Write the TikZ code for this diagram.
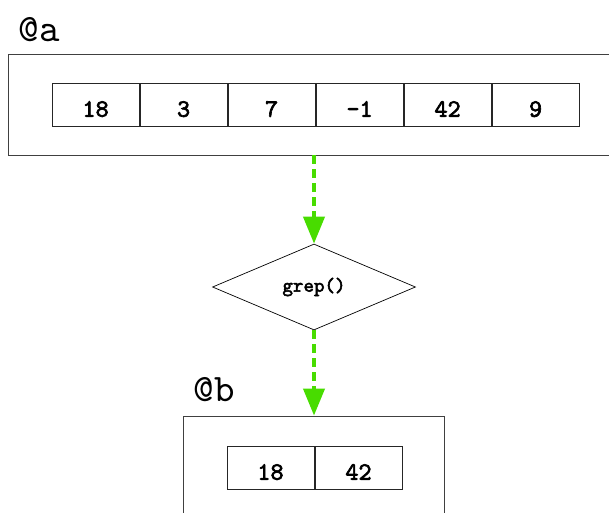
\documentclass[tikz,border=0pt]{standalone}
\usepackage{fontspec}
\newfontfamily\monoplain{lmmono10-regular.otf}
\newfontfamily\monoheavy{lmmono10-regular.otf}[FakeBold=2.6]
\usepackage{tikz}
\usetikzlibrary{positioning, shapes.geometric, arrows.meta}
\definecolor{flowgreen}{RGB}{72,220,0}
\tikzstyle{holder} = [rectangle, draw=black!75, line width=0.8pt, inner sep=0pt]
\tikzstyle{cell} = [rectangle, draw=black!85, line width=0.8pt, minimum width=87.2pt, minimum height=43pt, inner sep=0pt, text height=24.5pt, text depth=0pt, font=\fontsize{25}{25}\monoheavy]
\tikzstyle{decision} = [diamond, draw=black, line width=0.7pt, minimum width=203pt, minimum height=86pt, inner sep=0pt, font=\fontsize{20}{20}\monoheavy]
\tikzstyle{varname} = [anchor=base west, inner sep=0pt, font=\fontsize{39}{39}\monoplain]
\tikzstyle{flow} = [draw=flowgreen, line width=4pt, dash pattern=on 9pt off 5pt, -{Triangle[width=21pt,length=27pt]}]

\begin{document}
\begin{tikzpicture}[x=1pt, y=-1pt]
\useasboundingbox (0,0) rectangle (609,512);

% Array @a
\node (boxa) [holder, minimum width=607pt, minimum height=101pt] at (311.5,104.5) {};
\node (boxalabel) [varname] at ([xshift=11pt,yshift=12.5pt]boxa.north west) {@a};
\node (a1) [cell] at (95.6,104.5) {18};
\node (a2) [cell, right=0pt of a1] {3};
\node (a3) [cell, right=0pt of a2] {7};
\node (a4) [cell, right=0pt of a3] {-1};
\node (a5) [cell, right=0pt of a4] {42};
\node (a6) [cell, right=0pt of a5] {9};

% The filter
\node (grep) [decision] at (314,287) {grep()};

% Array @b
\node (boxb) [holder, minimum width=261pt, minimum height=130pt] at (313.5,481) {};
\node (boxblabel) [varname] at ([xshift=11pt,yshift=14pt]boxb.north west) {@b};
\node (b1) [cell] at (270.5,467.5) {18};
\node (b2) [cell, right=0pt of b1] {42};

% Arrows
\draw [flow] (boxa.south -| grep) -- (grep.north);
\draw [flow] (grep.south) -- (grep.south |- boxb.north);

\end{tikzpicture}
\end{document}
